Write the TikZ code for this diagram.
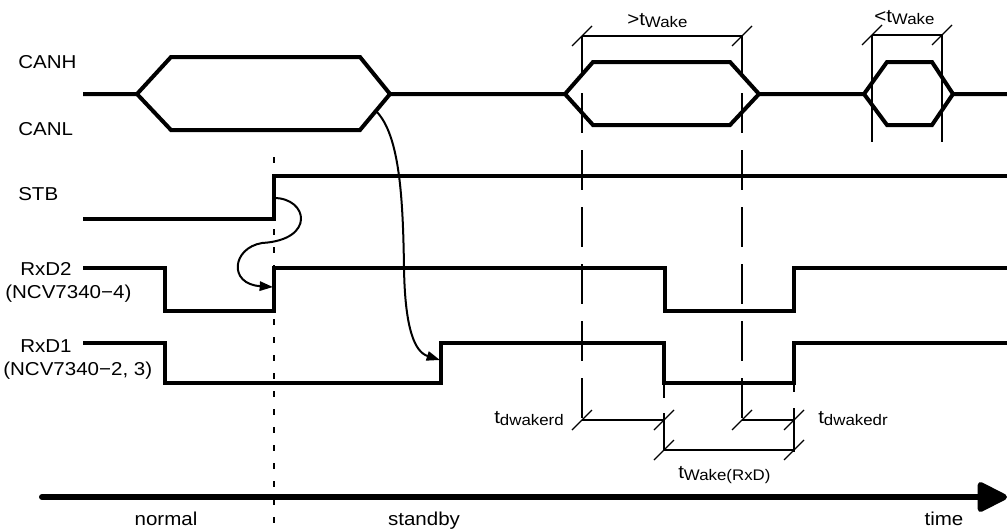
\documentclass[tikz,border=0pt]{standalone}
\usepackage{fontspec}
\setmainfont{Liberation Sans}[FakeStretch=1.1]
\usetikzlibrary{arrows.meta}
\newcommand\subt[1]{\raisebox{-2pt}{\fontsize{11.5}{13}\selectfont #1}}
\tikzset{
  sig/.style={line width=3pt, line join=miter},
  thinln/.style={line width=1pt},
  ldash/.style={line width=1.2pt, dash pattern=on 30pt off 12.75pt},
  sdash/.style={line width=1.5pt, dash pattern=on 4.5pt off 9pt},
  lbl/.style={font=\fontsize{14}{16}\selectfont, inner sep=0pt, anchor=base west},
  curvearrow/.style={line width=1.5pt, -{Triangle[length=10pt,width=7pt]}},
}
\newcommand\tickmark[2]{\draw[thinln] (#1-10,#2+10) -- (#1+10,#2-10);}
\begin{document}
\begin{tikzpicture}[x=0.75pt,y=-0.75pt]
\useasboundingbox (0,0) rectangle (1007,529);
% CAN bus
\draw[sig] (83,94) -- (137,94) -- (171,57) -- (360,57) -- (390,94) -- (565,94) -- (593,62) -- (730,62) -- (759,94) -- (864,94) -- (887,62) -- (932,62) -- (953,94) -- (1007,94);
\draw[sig] (137,94) -- (171,130) -- (360,130) -- (390,94);
\draw[sig] (565,94) -- (593,125) -- (730,125) -- (759,94);
\draw[sig] (864,94) -- (887,125) -- (932,125) -- (953,94);
% STB
\draw[sig] (83,219) -- (274,219) -- (274,176) -- (1007,176);
% RxD2
\draw[sig] (83,268) -- (165,268) -- (165,311) -- (274,311) -- (274,268) -- (665,268) -- (665,311) -- (794,311) -- (794,268) -- (1007,268);
% RxD1
\draw[sig] (83,343) -- (165,343) -- (165,383) -- (441,383) -- (441,343) -- (664,343) -- (664,383) -- (794,383) -- (794,343) -- (1007,343);
% mode boundary
\draw[sdash] (274,157) -- (274,529);
% >tWake marker
\draw[thinln] (582,36) -- (742,36);
\tickmark{582}{36}\tickmark{742}{36}
\draw[ldash] (582,36) -- (582,420);
\draw[ldash] (742,36) -- (742,420);
% <tWake marker
\draw[thinln] (872,35) -- (942,35);
\draw[thinln] (872,35) -- (872,142);
\draw[thinln] (942,35) -- (942,142);
\tickmark{872}{35}\tickmark{942}{35}
% bottom measurements
\draw[line width=1.2pt, dash pattern=on 11.25pt off 11.25pt on 60pt] (664,383) -- (664,450);
\draw[line width=1.2pt, dash pattern=on 7pt off 12pt on 60pt] (794,383) -- (794,452);
\draw[thinln] (582,420) -- (664,420);
\draw[thinln] (742,420) -- (794,420);
\draw[thinln] (664,450) -- (794,450);
\tickmark{582}{420}\tickmark{664}{420}\tickmark{742}{420}\tickmark{794}{420}
\tickmark{664}{450}\tickmark{794}{450}
% causal arrows
\coordinate (stbrise) at (274,198);
\coordinate (mid1) at (262,243);
\coordinate (rxd2rise) at (273,287);
\draw[curvearrow] (stbrise) .. controls (308,198) and (316,240) .. (mid1) .. controls (232,248) and (228,284) .. (rxd2rise);
\coordinate (canend) at (376,111);
\coordinate (mid2) at (404,268);
\coordinate (rxd1rise) at (440,360);
\draw[curvearrow] (canend) .. controls (400,135) and (403,200) .. (mid2) .. controls (405,330) and (415,352) .. (rxd1rise);
% time axis
\coordinate (tstart) at (42,497);
\coordinate (tend) at (1007,497);
\draw[line width=4.5pt, line cap=round, -{Triangle[length=25pt,width=24pt,round=false]}] (tstart) -- (tend);
% labels
\node[lbl] (canh) at (18,68) {CANH};
\node[lbl] (canl) at (18,135) {CANL};
\node[lbl] (stb) at (18,200) {STB};
\node[lbl] (rxd2) at (20,275) {RxD2};
\node[lbl] (ncv4) at (5,298) {(NCV7340−4)};
\node[lbl] (rxd1) at (20,352) {RxD1};
\node[lbl] (ncv23) at (3,375) {(NCV7340−2, 3)};
\node[lbl] (gtw) at (627,25) {>t\subt{Wake}};
\node[lbl] (ltw) at (874,22) {<t\subt{Wake}};
\node[lbl] (tdwrd) at (494,423) {t\subt{dwakerd}};
\node[lbl] (tdwdr) at (818,423) {t\subt{dwakedr}};
\node[lbl] (twrxd) at (678,478) {t\subt{Wake(RxD)}};
\node[lbl, anchor=base] (normal) at (166,525) {normal};
\node[lbl, anchor=base] (standby) at (424,525) {standby};
\node[lbl, anchor=base] (time) at (944,525) {time};
\end{tikzpicture}
\end{document}
